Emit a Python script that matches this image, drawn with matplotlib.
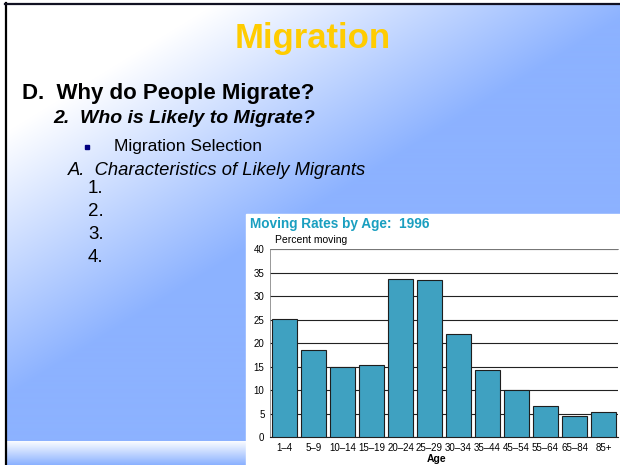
import numpy as np
import matplotlib.pyplot as plt
from matplotlib.patches import Rectangle

ages = ["1\u20134", "5\u20139", "10\u201314", "15\u201319", "20\u201324", "25\u201329",
        "30\u201334", "35\u201344", "45\u201354", "55\u201364", "65\u201384", "85+"]
rates = [25.1, 18.5, 14.8, 15.3, 33.7, 33.3, 22.0, 14.2, 10.0, 6.6, 4.4, 5.4]
yticks = [0, 5, 10, 15, 20, 25, 30, 35, 40]

W, H = 620, 465
sans = ["Liberation Sans", "DejaVu Sans"]

fig = plt.figure(figsize=(W / 100, H / 100), dpi=100)

# slide background, pixel coordinates
bg = fig.add_axes([0, 0, 1, 1])
bg.set_xlim(0, W)
bg.set_ylim(H, 0)
bg.axis("off")

white = np.array([1.0, 1.0, 1.0])
blue = np.array([0x8c, 0xb2, 0xff]) / 255
xx, yy = np.meshgrid(np.arange(W), np.arange(H))
t = np.clip(0.00233 * xx + 0.0038 * yy - 0.52, 0, 1)[..., None]
bg.imshow(white * (1 - t) + blue * t, extent=(0, W, H, 0), aspect="auto", zorder=0)

# bottom strip
s = np.linspace(0.05, 1, 24)[:, None, None]
bg.imshow(white * (1 - s) + blue * s, extent=(6, 246, H, 441), aspect="auto", zorder=1)

bg.add_patch(Rectangle((0, 0), 5, H, color="white", zorder=2))
bg.add_patch(Rectangle((0, 0), W, 3, color="white", zorder=2))
bg.plot([5.8, 5.8], [3, H], color="black", lw=1.6, zorder=3)
bg.plot([5, W], [3.8, 3.8], color="#111122", lw=1.6, zorder=3)

# chart picture box
bg.add_patch(Rectangle((246, 214), W - 246, H - 214, color="white", zorder=2))

# slide text
bg.text(313, 48, "Migration", family=sans, weight="bold", size=25,
        color="#ffcc00", ha="center", va="baseline", zorder=4)
bg.text(22, 99, "D.  Why do People Migrate?", family=sans, weight="bold",
        size=16, color="black", va="baseline", zorder=4)
bg.text(53, 123, "2.  Who is Likely to Migrate?", family=sans, weight="bold",
        style="italic", size=14, color="black", va="baseline", zorder=4)
bg.add_patch(Rectangle((85, 145), 4, 4, color="#000080", zorder=4))
bg.text(114, 151, "Migration Selection", family=sans, size=12.5,
        color="black", va="baseline", zorder=4)
bg.text(68, 175, "A.  Characteristics of Likely Migrants", family=sans,
        style="italic", size=13.2, color="black", va="baseline", zorder=4)
for i, lab in enumerate(["1.", "2.", "3.", "4."]):
    bg.text(88, 193 + i * 23, lab, family=sans, size=13.5, color="black",
            va="baseline", zorder=4)

# chart
bg.text(250, 228, "Moving Rates by Age:  1996", family=sans, weight="bold",
        size=9.8, color="#1a9fc0", va="baseline", zorder=4)
bg.text(275, 243, "Percent moving", family=sans, size=7.5, color="black",
        va="baseline", zorder=4)
bg.text(437, 462, "Age", family=sans, weight="bold", size=7.5, color="black",
        ha="center", va="baseline", zorder=4)

ax = fig.add_axes([270 / W, 1 - 437 / H, 348 / W, 188 / H])
x = np.arange(len(ages))
ax.bar(x, rates, width=0.83, color="#3fa1c1", edgecolor="#1e1e1e", lw=0.8, zorder=3)
ax.set_xlim(-0.5, 11.5)
ax.set_ylim(0, 40)
ax.set_yticks(yticks)
ax.set_xticks(x)
ax.set_xticklabels(ages, family=sans, size=7)
ax.set_yticklabels([str(v) for v in yticks], family=sans, size=7)
ax.tick_params(length=0, pad=4)
ax.yaxis.grid(True, color="#222222", lw=0.8)
ax.set_axisbelow(True)
ax.set_facecolor("white")
for side in ["left", "top"]:
    ax.spines[side].set_color("#888888")
    ax.spines[side].set_linewidth(0.6)
ax.spines["right"].set_visible(False)
ax.spines["bottom"].set_color("#222222")

fig.savefig("out.png", dpi=100)
